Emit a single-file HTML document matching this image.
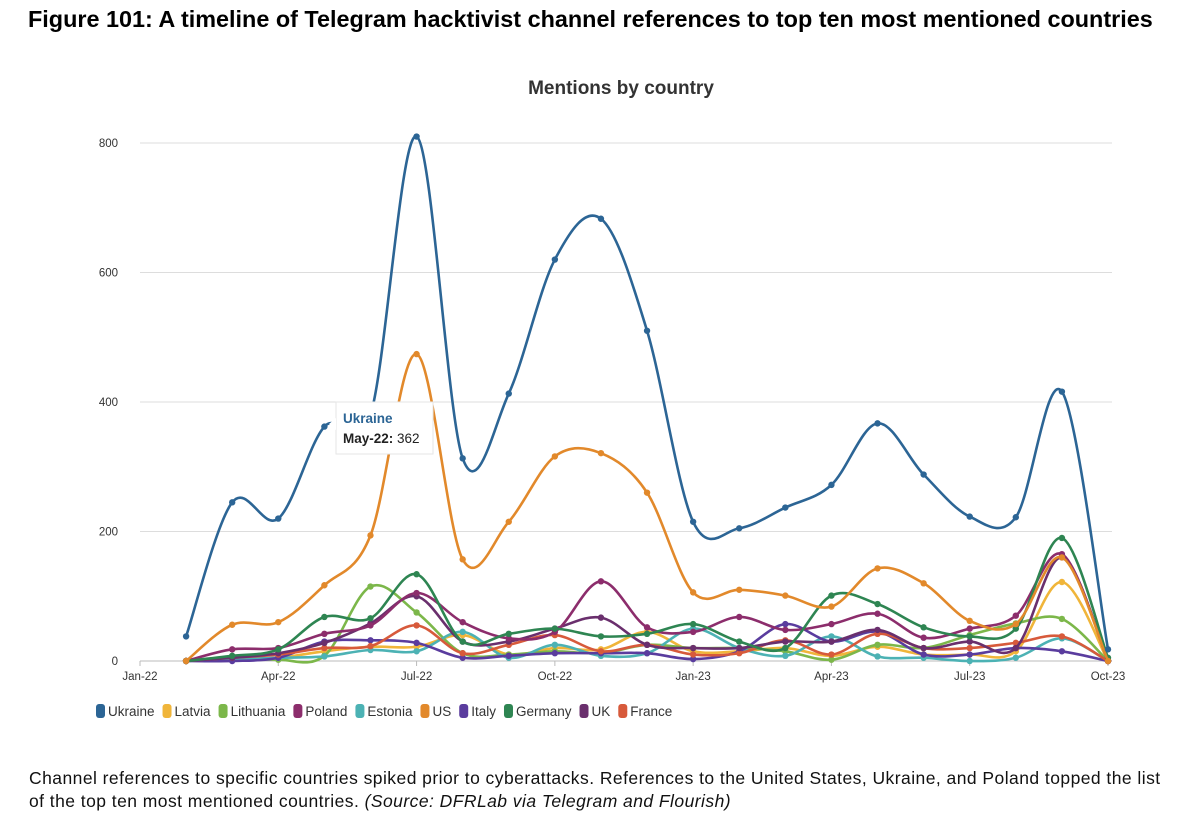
<!DOCTYPE html>
<html><head><meta charset="utf-8">
<style>
body{margin:0;background:#fff;width:1200px;height:830px;overflow:hidden;font-family:"Liberation Sans",sans-serif;}
#title{position:absolute;left:28px;top:6px;font-size:23.4px;font-weight:bold;color:#000;white-space:nowrap;}
#cap{position:absolute;left:29px;top:767px;font-size:17.5px;letter-spacing:0.45px;line-height:23px;color:#111;width:1170px;white-space:nowrap;}
svg{position:absolute;left:0;top:0;}
</style></head><body>
<div id="title">Figure 101: A timeline of Telegram hacktivist channel references to top ten most mentioned countries</div>
<svg id="chart" width="1200" height="830"></svg>
<div id="cap">Channel references to specific countries spiked prior to cyberattacks. References to the United States, Ukraine, and Poland topped the list<br>of the top ten most mentioned countries. <i>(Source: DFRLab via Telegram and Flourish)</i></div>
<script>
const months=["Feb-22","Mar-22","Apr-22","May-22","Jun-22","Jul-22","Aug-22","Sep-22","Oct-22","Nov-22","Dec-22","Jan-23","Feb-23","Mar-23","Apr-23","May-23","Jun-23","Jul-23","Aug-23","Sep-23","Oct-23"];
const xTickLabels=["Jan-22","Apr-22","Jul-22","Oct-22","Jan-23","Apr-23","Jul-23","Oct-23"];
const yTicks=[0,200,400,600,800];
const seriesNames=["Ukraine","Latvia","Lithuania","Poland","Estonia","US","Italy","Germany","UK","France"];
const seriesColors=["#2c6595","#f0b53a","#7cb74a","#8c2d6c","#4cb2b4","#e2892b","#5a3c9e","#2e8552","#6a2f6d","#d75a3b"];
const ukraine=[38,245,220,362,380,810,313,413,620,683,510,215,205,237,272,367,288,223,222,416,18];
const latvia=[0,3,5,15,22,22,40,10,20,18,45,15,15,20,8,22,10,10,15,122,0];
const lithuania=[0,5,2,8,115,75,12,10,15,12,25,20,20,15,2,25,20,40,58,65,0];
const poland=[0,18,20,42,55,105,60,35,45,123,52,45,68,48,57,73,36,50,70,165,0];
const estonia=[0,3,5,7,17,15,45,5,25,8,12,50,20,8,38,7,5,0,5,35,0];
const us=[0,56,60,117,194,474,157,215,316,321,260,106,110,101,84,143,120,62,57,160,0];
const italy=[0,0,5,30,32,28,5,8,12,12,12,3,15,57,30,45,10,10,20,15,0];
const germany=[0,8,18,68,66,134,30,42,50,38,42,57,30,20,101,88,52,38,50,190,5];
const uk=[0,5,12,28,58,100,30,30,50,67,25,20,20,30,30,48,20,30,20,160,0];
const france=[0,5,10,20,23,55,12,25,40,15,25,10,12,32,10,42,20,20,28,38,0];
const allSeries=[ukraine,latvia,lithuania,poland,estonia,us,italy,germany,uk,france];
const drawOrder=[1,2,4,6,9,8,3,7,5,0];

const NS="http://www.w3.org/2000/svg";
const svg=document.getElementById('chart');
const X0=140,X1=1108,Y0=661,Y800=143;
const xScale=m=>X0+m*(X1-X0)/21;
const yScale=v=>Y0-v*(Y0-Y800)/800;
function el(t,a,p){const e=document.createElementNS(NS,t);for(const k in a)e.setAttribute(k,a[k]);(p||svg).appendChild(e);return e;}

let t=el('text',{x:621,y:94,'text-anchor':'middle','font-size':19,'font-weight':'bold',fill:'#333','font-family':'"Liberation Sans Narrow","Liberation Sans",sans-serif'});
t.textContent="Mentions by country";



yTicks.forEach(v=>{
  const g=el('line',{x1:X0,x2:1112,y1:yScale(v),y2:yScale(v),stroke:v===0?'#bbb':'#ddd','stroke-width':1});
  
  
  const l=el('text',{x:118,y:yScale(v)+4,'text-anchor':'end','font-size':11.5,fill:'#333'});
  l.textContent=v;
  
  
});
xTickLabels.forEach((s,k)=>{
  const x=xScale(k*3);
  el('line',{x1:x,x2:x,y1:Y0,y2:Y0+5,stroke:'#bbb'});
  const l=el('text',{x:x,y:680,'text-anchor':'middle','font-size':11.5,fill:'#333'});
  l.textContent=s;
  
  
});

function smoothPath(pts){
  let d=`M${pts[0][0]},${pts[0][1]}`;
  for(let i=0;i<pts.length-1;i++){
    const p0=pts[Math.max(i-1,0)],p1=pts[i],p2=pts[i+1],p3=pts[Math.min(i+2,pts.length-1)];
    const c1=[p1[0]+(p2[0]-p0[0])/6,p1[1]+(p2[1]-p0[1])/6];
    const c2=[p2[0]-(p3[0]-p1[0])/6,p2[1]-(p3[1]-p1[1])/6];
    d+=`C${c1[0]},${c1[1]} ${c2[0]},${c2[1]} ${p2[0]},${p2[1]}`;
  }
  return d;
}
drawOrder.forEach(si=>{
  const data=allSeries[si],c=seriesColors[si];
  const g=el('g',{});
  
  
  const pts=data.map((v,i)=>[xScale(i+1),yScale(v)]);
  el('path',{d:smoothPath(pts),fill:'none',stroke:c,'stroke-width':2.6},g);
  pts.forEach((p,i)=>{
    const d=el('circle',{cx:p[0],cy:p[1],r:3.2,fill:c},g);
    
    
  });
});

const tg=el('g',{});


el('rect',{x:336,y:402,width:97,height:52,fill:'#fff',stroke:'#e6e6e6','stroke-width':1},tg);
el('path',{d:'M336,418 L329,424 L336,430 Z',fill:'#fff'},tg);
let tt=el('text',{x:343,y:423,'font-size':13.5,'font-weight':'bold',fill:'#2c6595'},tg);tt.textContent='Ukraine';
tt=el('text',{x:343,y:443,'font-size':13.5,fill:'#222'},tg);
tt.innerHTML='<tspan font-weight="bold">May-22:</tspan> 362';

let lx=96;
seriesNames.forEach((n,i)=>{
  const g=el('g',{});
  
  
  el('rect',{x:lx,y:704,width:9,height:14,rx:3,fill:seriesColors[i]},g);
  const tx=el('text',{x:lx+12,y:716,'font-size':13.5,fill:'#333'},g);
  tx.textContent=n;
  lx+=12+tx.getComputedTextLength()+8;
});
</script>
</body></html>
